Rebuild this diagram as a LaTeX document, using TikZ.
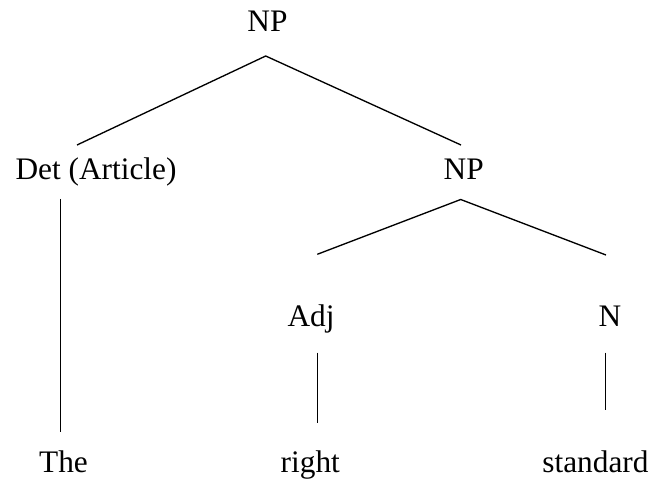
\documentclass[tikz,border=0pt]{standalone}
\usepackage{fontspec}
\setmainfont{Liberation Serif}
\begin{document}
\begin{tikzpicture}[x=0.75pt,y=-0.75pt,
  lbl/.style={anchor=base,inner sep=0pt,font=\fontsize{23.5}{28}\selectfont},
  branch/.style={line width=1pt,line cap=butt}]
\useasboundingbox (0,0) rectangle (650,481);
% category and word labels
\node[lbl] (np1) at (267.5,32) {NP};
\node[lbl] (det) at (96,180) {Det (Article)};
\node[lbl] (np2) at (463.7,180) {NP};
\node[lbl] (adj) at (311,326.7) {Adj};
\node[lbl] (n) at (610,326) {N};
\node[lbl] (the) at (63.5,472.7) {The};
\node[lbl] (right) at (310.3,472.7) {right};
\node[lbl] (standard) at (595.5,472.7) {standard};
% branch end points
\coordinate (np1-b) at (265.7,56);
\coordinate (det-t) at (77,145);
\coordinate (np2-t) at (461,145);
\coordinate (det-b) at (60.7,199);
\coordinate (the-t) at (60.7,431.7);
\coordinate (np2-b) at (460.7,199.5);
\coordinate (adj-t) at (317.3,254.3);
\coordinate (n-t) at (606,255);
\coordinate (adj-b) at (317.3,352.7);
\coordinate (right-t) at (317.3,423.3);
\coordinate (n-b) at (605.7,352.7);
\coordinate (standard-t) at (605.7,410);
% branches
\draw[branch] (det-t) -- (np1-b) -- (np2-t);
\draw[branch] (det-b) -- (the-t);
\draw[branch] (adj-t) -- (np2-b) -- (n-t);
\draw[branch] (adj-b) -- (right-t);
\draw[branch] (n-b) -- (standard-t);
\end{tikzpicture}
\end{document}
